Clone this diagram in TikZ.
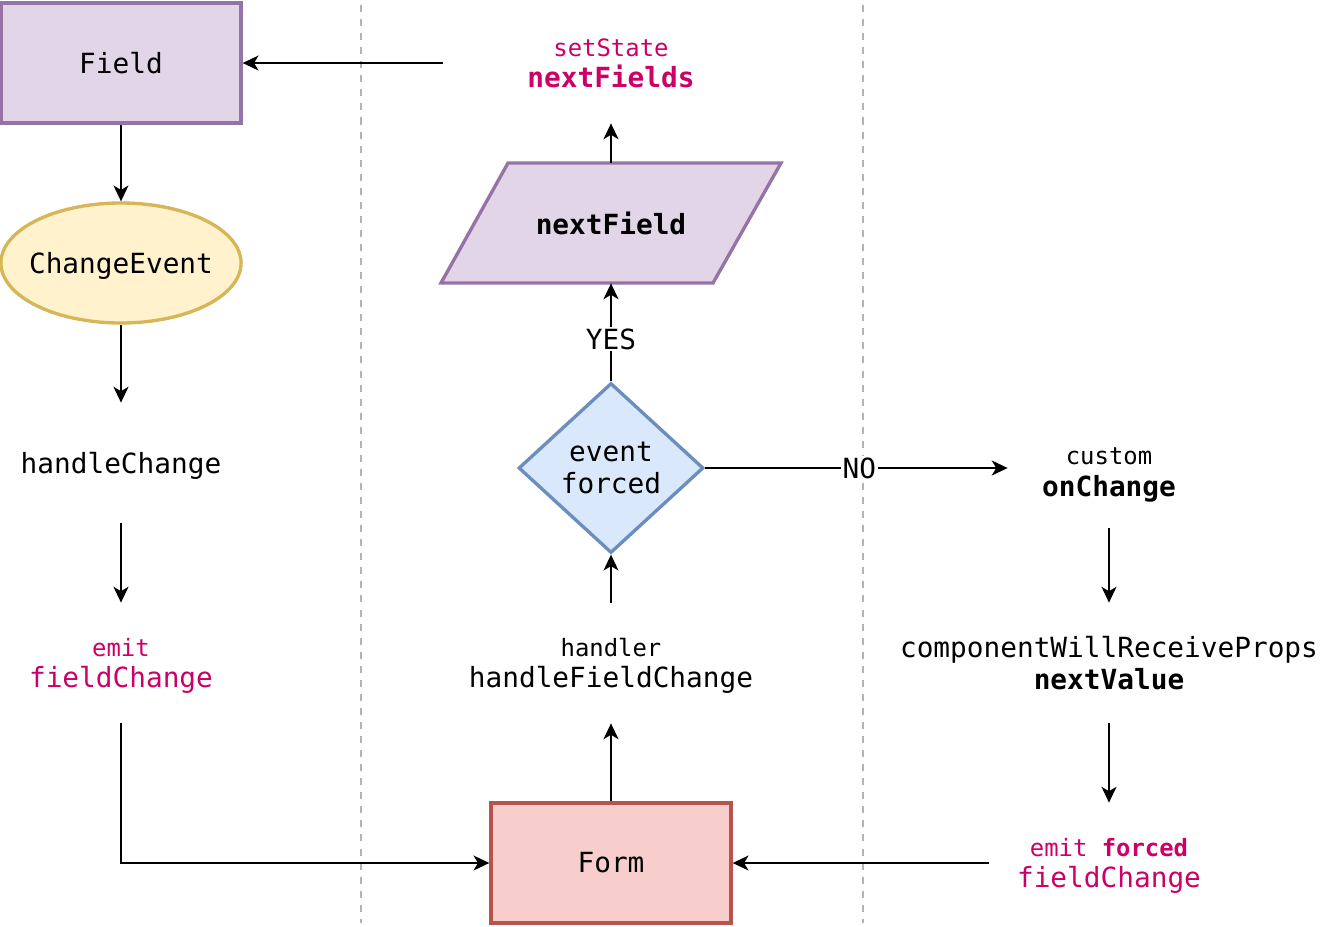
\documentclass[tikz,border=0pt]{standalone}
\usepackage{fontspec}
\setmainfont{DejaVu Sans Mono}
\usetikzlibrary{arrows.meta,shapes.geometric}
\definecolor{fieldfill}{HTML}{E1D5E7}
\definecolor{fielddraw}{HTML}{9673A6}
\definecolor{eventfill}{HTML}{FFF2CC}
\definecolor{eventdraw}{HTML}{D6B656}
\definecolor{formfill}{HTML}{F8CECC}
\definecolor{formdraw}{HTML}{B85450}
\definecolor{decfill}{HTML}{DAE8FC}
\definecolor{decdraw}{HTML}{6C8EBF}
\definecolor{emitcol}{HTML}{CC0066}
\definecolor{sepgray}{HTML}{B3B3B3}
\newcommand{\bigtxt}{\fontsize{15.8}{18}\selectfont}
\newcommand{\smalltxt}{\fontsize{13.6}{18}\selectfont}
\tikzset{
	box/.style={draw, line width=1.9pt, minimum width=4.8cm, minimum height=2.4cm, inner sep=0pt, font=\bigtxt},
	txt/.style={align=center, minimum height=2.4cm, inner sep=0pt, text depth=0pt, font=\bigtxt},
	flow/.style={-{Stealth[length=9pt,width=8.5pt,inset=2.5pt]}, line width=1.15pt},
	lbl/.style={fill=white, inner sep=1pt, font=\bigtxt},
	lane/.style={draw=sepgray, line width=1pt, dash pattern=on 4pt off 4pt}
}

\begin{document}
\begin{tikzpicture}
	\useasboundingbox (0,0) rectangle (26.4,-18.52);

	% lanes
	\draw[lane] (7.22,-0.1) -- (7.22,-18.46);
	\draw[lane] (17.26,-0.1) -- (17.26,-18.46);

	% left column
	\node[box, fill=fieldfill, draw=fielddraw] (field) at (2.42,-1.26) {Field};
	\node[box, ellipse, inner xsep=-4pt, text depth=0pt, fill=eventfill, draw=eventdraw] (event) at (2.42,-5.26) {ChangeEvent};
	\node[txt, minimum width=4.8cm] (hchange) at (2.42,-9.26) {handleChange};
	\node[txt, minimum width=4.8cm, text=emitcol] (emit) at (2.42,-13.26) {{\smalltxt emit}\\fieldChange};

	% middle column
	\node[box, fill=formfill, draw=formdraw] (form) at (12.22,-17.26) {Form};
	\node[txt, minimum width=6cm] (handler) at (12.22,-13.26) {{\smalltxt handler}\\handleFieldChange};
	\node[diamond, draw=decdraw, fill=decfill, line width=1.9pt, inner sep=0pt, minimum width=3.7cm, minimum height=3.4cm, align=center, font=\bigtxt] (forced) at (12.22,-9.36) {event\\forced};
	\draw[fill=fieldfill, draw=fielddraw, line width=1.9pt] (8.82,-5.66) -- (14.26,-5.66) -- (15.62,-3.26) -- (10.16,-3.26) -- cycle;
	\node[txt, minimum width=6.8cm] (nfield) at (12.22,-4.46) {\textbf{nextField}};
	\node[txt, minimum width=6.72cm, text=emitcol] (setstate) at (12.22,-1.26) {{\smalltxt setState}\\\textbf{nextFields}};

	% right column
	\node[txt, minimum width=4.04cm, minimum height=2.24cm] (custom) at (22.18,-9.44) {{\smalltxt custom}\\\textbf{onChange}};
	\node[txt, minimum width=4.8cm] (cwrp) at (22.18,-13.26) {componentWillReceiveProps\\\textbf{nextValue}};
	\node[txt, minimum width=4.8cm, text=emitcol] (emitforced) at (22.18,-17.26) {{\smalltxt emit \textbf{forced}}\\fieldChange};

	% connectors
	\draw[flow] (setstate) -- (field);
	\draw[flow] (field) -- (event);
	\draw[flow] (event) -- (hchange);
	\draw[flow] (hchange) -- (emit);
	\draw[flow] (emit.south) |- (form.west);
	\draw[flow] (form) -- (handler);
	\draw[flow] (handler) -- (forced);
	\draw[flow] (forced) -- node[lbl, pos=0.43] {YES} (nfield);
	\draw[flow] (nfield) -- (setstate);
	\draw[flow] (forced.east) -- node[lbl, pos=0.51] {NO} (forced.east -| custom.west);
	\draw[flow] (custom) -- (cwrp);
	\draw[flow] (cwrp) -- (emitforced);
	\draw[flow] (emitforced) -- (form);
\end{tikzpicture}
\end{document}
